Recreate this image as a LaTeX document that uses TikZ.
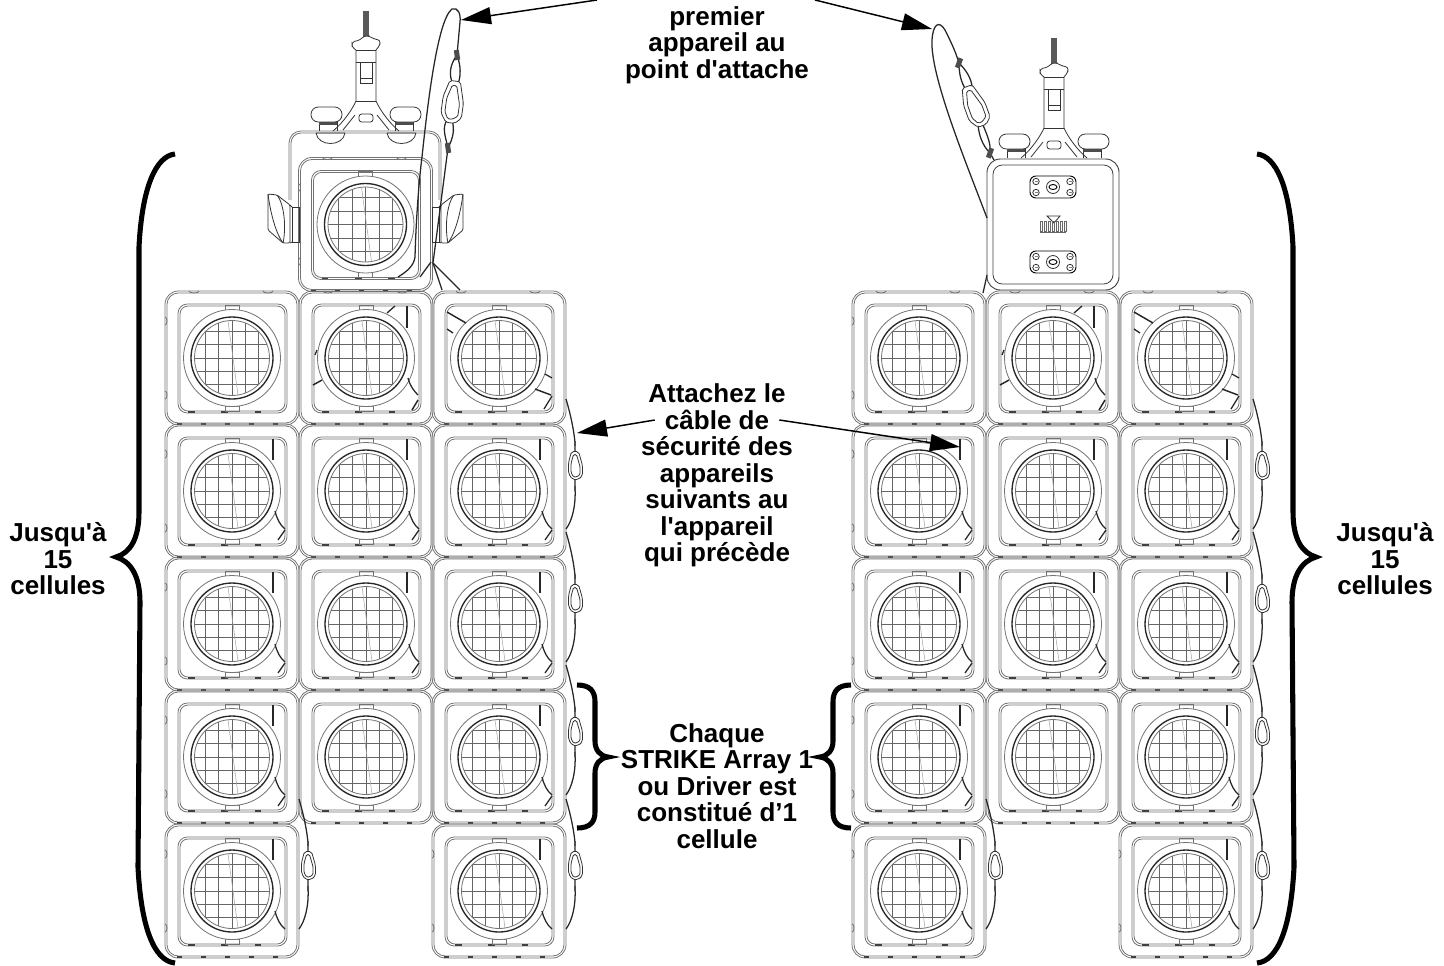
\documentclass[tikz,border=0pt]{standalone}
\usepackage{fontspec}
\setmainfont{Liberation Sans}[Ligatures=TeXOff]
\usetikzlibrary{arrows.meta}
\tikzset{
  note/.style={font=\bfseries\fontsize{19.5}{19.9}\selectfont,align=center,inner sep=0pt},
  pointer/.style={-{Triangle[length=22.5pt,width=12.75pt]},line width=1.1pt},
  curly/.style={line width=3.8pt},
  frameline/.style={draw=black!55,line width=0.6pt},
  gridline/.style={draw=black!60,line width=0.55pt},
  darkline/.style={draw=black!85,line width=1pt},
  cableline/.style={draw=black!85,line width=0.95pt},
  fixline/.style={draw=black!80,line width=0.6pt},
  cell/.pic={
    \draw[frameline,rounded corners=10pt] (-67,-67) rectangle (67,67);
    \draw[frameline,rounded corners=8.5pt] (-65,-65) rectangle (65,65);
    \draw[frameline,rounded corners=7pt] (-54,-54) rectangle (55,55);
    \draw[frameline,rounded corners=6pt] (-52,-52) rectangle (53,53);
    \draw[black!75,line width=0.8pt,dash pattern=on 4pt off 14pt] (-55,66) -- (55,66);
    \draw[black!75,line width=0.8pt,dash pattern=on 5pt off 20pt] (-44,54) -- (44,54);
    \draw[frameline] (-7,-53) rectangle (7,-48);
    \draw[frameline] (-7,48) rectangle (7,53);
    \draw[frameline,fill=white] (0,0) circle (48.5);
    \foreach \k in {-26.8,-13.4,0,13.4,26.8} {
      \pgfmathsetmacro\h{sqrt(37.5*37.5-\k*\k)}
      \draw[gridline] (\k,-\h) -- (\k,\h);
      \draw[gridline] (-\h,\k) -- (\h,\k);
    }
    \draw[black!35,line width=0.4pt] (-4,-37) -- (6,37);
    \draw[darkline] (0,0) circle (41);
    \draw[frameline] (0,0) circle (37.5);
  },
  sidelugs/.pic={
    \draw[frameline] (-67,-41) arc (90:270:-2 and -4);
    \draw[frameline] (-67,33) arc (90:270:-2 and -4);
  },
  toplugs/.pic={
    \draw[frameline] (-43,-67) arc (180:360:5 and -2);
    \draw[frameline] (31,-67) arc (180:360:5 and -2);
  },
  slack/.pic={
    \draw[cableline] (41,-52) -- (41,-31);
    \draw[cableline] (43,20) .. controls (45,28) and (48,34) .. (53,38);
    \draw[cableline] (46,49) -- (53,39);
  },
  slackend/.pic={
    \draw[cableline] (41,-52) -- (41,-31);
    \draw[cableline] (43,20) .. controls (45,28) and (48,34) .. (53,38);
  },
  crossing/.pic={
    \draw[cableline] (21,-45) -- (29,-52);
    \draw[cableline] (41,-52) -- (41,-30);
    \draw[cableline,line width=1.1pt] (-53,27) -- (-44,22);
    \draw[cableline] (-49,-8) -- (-51,-3);
    \draw[cableline] (42,20) .. controls (44,28) and (48,33) .. (52,37);
    \draw[cableline,line width=1.1pt] (46,52) -- (52,42);
  },
  diagonals/.pic={
    \draw[cableline,line width=1.1pt] (-52,-46) -- (-33,-35);
    \draw[cableline] (-52,-29) -- (-46,-25);
    \draw[cableline] (46,16) -- (53,20);
    \draw[cableline,line width=1.1pt] (36,31) -- (52,37);
    \draw[cableline] (45,51) -- (53,38);
  },
  hook/.pic={
    \draw[fixline,fill=white,rounded corners=1.5pt] (-7,-3) -- (-4,-14) -- (3,-14) -- (7,0) -- (7,10) -- (3,14) -- (-3,14) -- (-7,8) -- cycle;
    \draw[fixline,rounded corners=1pt] (-4.5,-2) -- (-2,-11) -- (1,-11) -- (4.5,1) -- (4.5,9) -- (1,11.5) -- (-2,11.5) -- (-4.5,7) -- cycle;
  },
  safety/.pic={
    \draw[cableline] (67,-92) .. controls (72,-75) and (75,-60) .. (76,-48) -- (76,-3) .. controls (77,15) and (73,30) .. (67,38);
    \fill[black!70] (74.8,-50.5) rectangle (77.2,-45.5);
    \fill[black!70] (74.8,-5.5) rectangle (77.2,-0.5);
    \pic at (76.5,-25.5) {hook};
  },
  clamp/.pic={
    \fill[black!65] (-3,11) rectangle (3,38);
    \draw[fixline] (-10,44) -- (-10,101) .. controls (-13,108) and (-22,122) .. (-33,131);
    \draw[fixline] (10,44) -- (10,101) .. controls (13,108) and (22,122) .. (33,131);
    \draw[fixline] (-11,115) -- (-23,130);
    \draw[fixline] (11,115) -- (23,130);
    \draw[fixline,fill=white,rounded corners=2pt] (-10,50) -- (-14,47) -- (-14,42) -- (-6,40) -- (-2,36) -- (3,36) -- (8,39) -- (14,40) -- (14,45) -- (10,50);
    \draw[fixline] (-10,50) -- (10,50);
    \draw[fixline] (-10,62) -- (10,62);
    \draw[fixline] (-10,101) -- (10,101);
    \draw[fixline] (-6,62) -- (-6,83) -- (6,83) -- (6,62);
    \draw[fixline] (-6,78) -- (6,78);
    \draw[fixline,rounded corners=2pt] (-7,114) rectangle (7,122);
    \draw[fixline,fill=white,rounded corners=5.5pt] (-55,107) rectangle (-24,122);
    \draw[fixline,fill=white,rounded corners=5.5pt] (24,107) rectangle (55,122);
    \draw[fixline] (-47,122) -- (-47,131);
    \draw[fixline] (-29,122) -- (-29,131);
    \draw[fixline] (47,122) -- (47,131);
    \draw[fixline] (29,122) -- (29,131);
    \fill[black!70] (-47,122) rectangle (-29,125);
    \fill[black!70] (29,122) rectangle (47,125);
  },
  wing/.pic={
    \draw[fixline,rounded corners=1pt] (268,194) -- (277,195) -- (290,205) -- (290,243) -- (283,243) -- (268,230) -- cycle;
    \draw[fixline] (277,195) .. controls (285,205) and (286,230) .. (283,243);
    \draw[fixline] (268,194) .. controls (270,210) and (275,232) .. (283,243);
    \draw[fixline] (292,207) rectangle (299,242);
    \draw[fixline] (290,205) -- (292,207);
    \draw[fixline] (290,243) -- (292,242);
  },
  plate/.pic={
    \draw[black,line width=0.7pt,rounded corners=4.5pt] (-23,-11) rectangle (23,11);
    \draw[fixline] (0,0) circle (6.5);
    \draw[black,line width=0.7pt] (0,0) ellipse (4 and 2.5);
    \foreach \sx in {-17,17} \foreach \sy in {-5.5,5.5} {
      \draw[fixline] (\sx,\sy) circle (3.2);
      \draw[black!50,line width=0.3pt] (\sx-1.5,\sy) -- (\sx+1.5,\sy);
    }
  },
  bigbrace/.pic={
    \draw[curly] (59,-403) .. controls (40,-401) and (26,-370) .. (23,-310) -- (23,-45) .. controls (23,-18) and (14,-4) .. (0,0) .. controls (14,4) and (24,18) .. (24,45) -- (22,310) .. controls (25,370) and (38,404) .. (59,406);
  },
  smallbrace/.pic={
    \draw[curly] (31,-72) .. controls (18,-72) and (13,-66) .. (13,-55) -- (13,-16) .. controls (13,-7) and (8,-1) .. (0,0) .. controls (8,1) and (13,7) .. (13,16) -- (13,55) .. controls (13,65) and (18,71) .. (31,71);
  }
}
\begin{document}
\begin{tikzpicture}[x=0.75pt,y=-0.75pt]
\useasboundingbox (0,0) rectangle (1444,965);

% cell blocks
\foreach \cy in {358,491,624,757} {
  \foreach \cx in {232,366,499,919,1053,1186} {
    \pic at (\cx,\cy) {cell};
  }
}
\foreach \cx in {232,499,919,1186} {
  \pic at (\cx,891) {cell};
  \pic at (\cx,891) {sidelugs};
  \pic at (\cx,891) {slackend};
}
\foreach \cx in {232,919} {
  \foreach \cy in {358,491,624,757} {
    \pic at (\cx,\cy) {sidelugs};
  }
}
\foreach \cx in {232,366,499,919,1053,1186} {
  \pic at (\cx,358) {toplugs};
}
\foreach \cy in {491,624,757} {
  \foreach \cx in {232,499,919,1186} {
    \pic at (\cx,\cy) {slack};
  }
}
\foreach \cy in {491,624} {
  \foreach \cx in {366,1053} {
    \pic at (\cx,\cy) {slack};
  }
}
\foreach \cx in {366,1053} {
  \pic at (\cx,358) {crossing};
}
\foreach \cx in {499,1186} {
  \pic at (\cx,358) {diagonals};
}

% safety cables outside the blocks
\foreach \cy in {491,624,757,891} {
  \pic at (499,\cy) {safety};
  \pic at (1186,\cy) {safety};
}
\pic at (232,891) {safety};
\pic at (919,891) {safety};

% left fixture, front
\draw[frameline,rounded corners=9pt] (289,200) -- (289,131) -- (441,131) -- (441,200);
\draw[frameline,rounded corners=7.5pt] (291,200) -- (291,133) -- (439,133) -- (439,200);
\pic at (366,0) {clamp};
\draw[fixline] (316,133) -- (345,133) (316,133) .. controls (318,147) and (343,147) .. (345,133);
\draw[fixline] (387,133) -- (416,133) (387,133) .. controls (389,147) and (414,147) .. (416,133);
\pic at (365.5,224.5) {cell};
\pic at (365.5,224.5) {toplugs};
\pic at (365.5,224.5) {sidelugs};
\pic {wing};
\pic[xscale=-1,xshift=-731pt*0.75] {wing};
\draw[cableline] (398,277) .. controls (408,271) and (414,265) .. (415,257) .. controls (416,220) and (419,180) .. (422,157) .. controls (427,110) and (437,20) .. (452,9) .. controls (458,7) and (461,14) .. (460,22) -- (457,55);
\draw[cableline] (457,55) .. controls (449,66) and (449,76) .. (453,84);
\draw[cableline] (457,55) .. controls (461,66) and (461,76) .. (458,84);
\draw[cableline] (448,148) .. controls (445,135) and (442,128) .. (447,120);
\draw[cableline] (448,148) .. controls (453,138) and (455,130) .. (452,120);
\draw[cableline] (448,148) -- (433,263) -- (442,290);
\draw[cableline] (433,263) -- (460,290);
\draw[cableline] (420,277) -- (431,262);
\fill[black!70,rotate around={8:(457,55)}] (454.5,50) rectangle (459.5,60);
\fill[black!70,rotate around={8:(448,148)}] (445.5,143) rectangle (450.5,153);
\pic[rotate=-8,scale=1.5] at (453,102) {hook};

% right fixture, rear
\pic at (1054,27) {clamp};
\draw[black!75,line width=0.7pt,fill=white,rounded corners=10pt] (987,159) rectangle (1119,290);
\draw[black!75,line width=0.6pt,rounded corners=7pt] (993,165) rectangle (1113,284);
\pic at (1053,187) {plate};
\pic at (1053,262) {plate};
\draw[fixline] (1047,216) -- (1060,216) -- (1054,223) -- cycle;
\foreach \bx in {1041,1045,1049,1053,1057,1061,1065} {
  \draw[black!60,line width=0.4pt] (\bx-1,221) rectangle (\bx+1,231);
}
\draw[black!60,line width=0.3pt] (1040,232) -- (1066,232);
\draw[cableline] (987,218) .. controls (965,160) and (930,75) .. (932,40) .. controls (933,24) and (939,20) .. (945,30) .. controls (950,40) and (955,50) .. (959,63);
\draw[cableline] (959,63) .. controls (959,74) and (961,82) .. (966,90);
\draw[cableline] (959,63) .. controls (966,70) and (971,78) .. (972,86);
\draw[cableline] (990,153) .. controls (982,145) and (979,135) .. (978,125);
\draw[cableline] (990,153) .. controls (991,143) and (987,135) .. (983,125);
\draw[cableline] (990,153) -- (994,160);
\draw[cableline] (987,275) -- (983,293);
\fill[black!70,rotate around={-20:(959,63)}] (956.5,58) rectangle (961.5,68);
\fill[black!70,rotate around={-20:(990,153)}] (987.5,148) rectangle (992.5,158);
\pic[rotate=20,scale=1.5] at (975,106) {hook};

% braces
\pic at (116,557) {bigbrace};
\pic[xscale=-1] at (1316,557) {bigbrace};
\pic[xscale=-1] at (608,757) {smallbrace};
\pic at (820,757) {smallbrace};

% labels
\node[note] (firstnote) at (717,45) {premier\\appareil au\\point d'attache};
\node[note] (attachhead) at (717,393) {Attachez le};
\node[note,inner xsep=7.5pt] (attachcable) at (717,420) {câble de};
\node[note] (attachrest) at (717,502) {sécurité des\\appareils\\suivants au\\l'appareil\\qui précède};
\node[note] (eachnote) at (717,786) {Chaque\\STRIKE Array 1\\ou Driver est\\constitué d’1\\cellule};
\node[note] (leftcount) at (58,559) {Jusqu'à\\15\\cellules};
\node[note] (rightcount) at (1385,559) {Jusqu'à\\15\\cellules};

% arrows
\coordinate (firstleft) at (597,0);
\coordinate (firstright) at (815,0);
\coordinate (loopleft) at (461,20);
\coordinate (loopright) at (932,29);
\coordinate (safetyleft) at (577,433);
\coordinate (safetyright) at (960,447);
\draw[pointer] (firstleft) -- (loopleft);
\draw[pointer] (firstright) -- (loopright);
\draw[pointer] (attachcable.west) -- (safetyleft);
\draw[pointer] (attachcable.east) -- (safetyright);
\end{tikzpicture}
\end{document}
